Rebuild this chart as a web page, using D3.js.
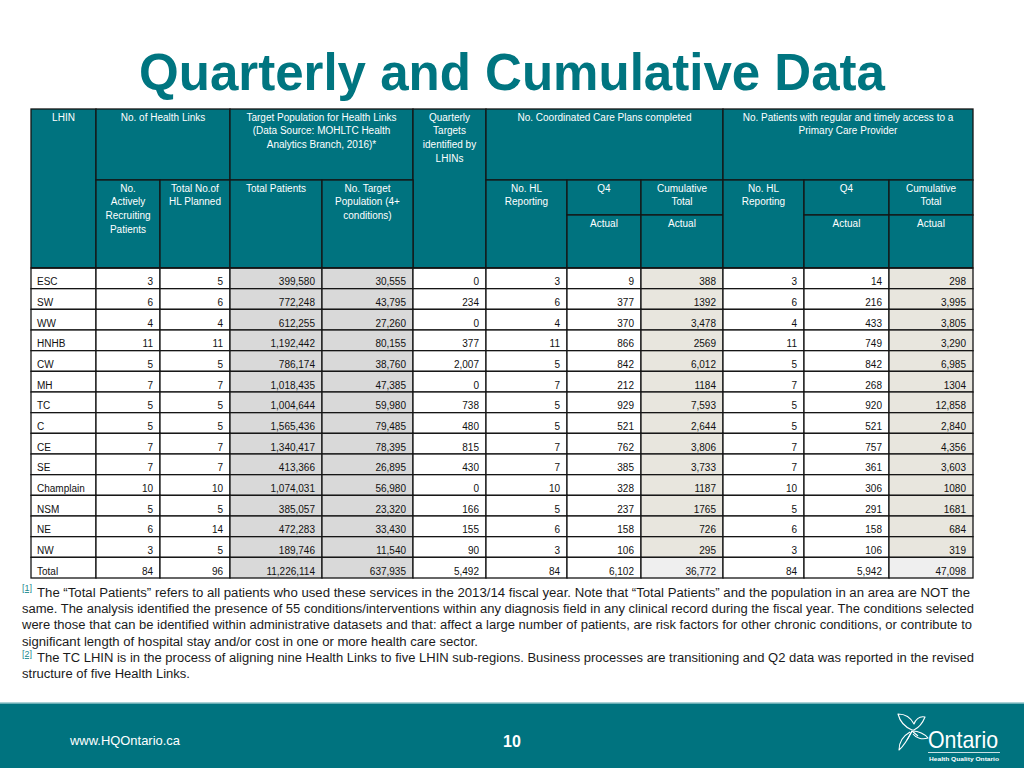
<!DOCTYPE html>
<html><head><meta charset="utf-8">
<script src="https://cdn.jsdelivr.net/npm/d3@7"></script>
<style>html,body{margin:0;padding:0;background:#fff;} svg{display:block;font-family:"Liberation Sans",Arial,Helvetica,sans-serif;}</style>
</head><body><svg id="c" width="1024" height="768"></svg>
<script>
// ---------- DATA ----------
const lhin = ["ESC","SW","WW","HNHB","CW","MH","TC","C","CE","SE","Champlain","NSM","NE","NW","Total"];
const activelyRecruiting = ["3","6","4","11","5","7","5","5","7","7","10","5","6","3","84"];
const hlPlanned = ["5","6","4","11","5","7","5","5","7","7","10","5","14","5","96"];
const totalPatients = ["399,580","772,248","612,255","1,192,442","786,174","1,018,435","1,004,644","1,565,436","1,340,417","413,366","1,074,031","385,057","472,283","189,746","11,226,114"];
const targetPopulation = ["30,555","43,795","27,260","80,155","38,760","47,385","59,980","79,485","78,395","26,895","56,980","23,320","33,430","11,540","637,935"];
const quarterlyTargets = ["0","234","0","377","2,007","0","738","480","815","430","0","166","155","90","5,492"];
const ccpHLReporting = ["3","6","4","11","5","7","5","5","7","7","10","5","6","3","84"];
const ccpQ4Actual = ["9","377","370","866","842","212","929","521","762","385","328","237","158","106","6,102"];
const ccpCumulative = ["388","1392","3,478","2569","6,012","1184","7,593","2,644","3,806","3,733","1187","1765","726","295","36,772"];
const pcpHLReporting = ["3","6","4","11","5","7","5","5","7","7","10","5","6","3","84"];
const pcpQ4Actual = ["14","216","433","749","842","268","920","521","757","361","306","291","158","106","5,942"];
const pcpCumulative = ["298","3,995","3,805","3,290","6,985","1304","12,858","2,840","4,356","3,603","1080","1681","684","319","47,098"];

const titleText = "Quarterly and Cumulative Data";
const headLHIN = ["LHIN"];
const headHealthLinks = ["No. of Health Links"];
const headTargetPop = ["Target Population for Health Links","(Data Source: MOHLTC Health","Analytics Branch, 2016)*"];
const headQuarterly = ["Quarterly","Targets","identified by","LHINs"];
const headCCP = ["No. Coordinated Care Plans completed"];
const headPCP = ["No. Patients with regular and timely access to a","Primary Care Provider"];
const subActive = ["No.","Actively","Recruiting","Patients"];
const subPlanned = ["Total No.of","HL Planned"];
const subTotalPatients = ["Total Patients"];
const subTarget = ["No. Target","Population (4+","conditions)"];
const subHL = ["No. HL","Reporting"];
const subQ4 = ["Q4"];
const subCum = ["Cumulative","Total"];
const subActual = ["Actual"];

const footnote1 = ["The \u201cTotal Patients\u201d refers to all patients who used these services in the 2013/14 fiscal year. Note that \u201cTotal Patients\u201d and the population in an area are NOT the",
 "same. The analysis identified the presence of 55 conditions/interventions within any diagnosis field in any clinical record during the fiscal year. The conditions selected",
 "were those that can be identified within administrative datasets and that: affect a large number of patients, are risk factors for other chronic conditions, or contribute to",
 "significant length of hospital stay and/or cost in one or more health care sector."];
const footnote2 = ["The TC LHIN is in the process of aligning nine Health Links to five LHIN sub-regions. Business processes are transitioning and Q2 data was reported in the revised",
 "structure of five Health Links."];
const footerUrl = "www.HQOntario.ca";
const pageNumber = "10";

// ---------- LAYOUT ----------
const svg = d3.select("#c");
const TEAL = "#00737f", GREY = "#d9d9d9", BEIGE = "#e8e6de", LIGHT = "#efefef", LINE = "#151515";
const colEdges = [31,96,160,230,322,413,486,567,641,723,804,889,973];
const yTop = 109, yH1 = 180, yH2 = 215, yHead = 268, yBot = 578;

// Title
svg.append("text").attr("x",512).attr("y",90).attr("text-anchor","middle")
  .attr("font-size",52).attr("font-weight","bold").attr("fill","#007580")
  .attr("textLength",746).attr("lengthAdjust","spacingAndGlyphs").text(titleText);

// Header cells
const headerCells = [
  {c0:0,c1:1,y0:yTop,y1:yHead,lines:headLHIN},
  {c0:1,c1:3,y0:yTop,y1:yH1,lines:headHealthLinks},
  {c0:3,c1:5,y0:yTop,y1:yH1,lines:headTargetPop},
  {c0:5,c1:6,y0:yTop,y1:yHead,lines:headQuarterly},
  {c0:6,c1:9,y0:yTop,y1:yH1,lines:headCCP},
  {c0:9,c1:12,y0:yTop,y1:yH1,lines:headPCP},
  {c0:1,c1:2,y0:yH1,y1:yHead,lines:subActive},
  {c0:2,c1:3,y0:yH1,y1:yHead,lines:subPlanned},
  {c0:3,c1:4,y0:yH1,y1:yHead,lines:subTotalPatients},
  {c0:4,c1:5,y0:yH1,y1:yHead,lines:subTarget},
  {c0:6,c1:7,y0:yH1,y1:yHead,lines:subHL},
  {c0:7,c1:8,y0:yH1,y1:yH2,lines:subQ4},
  {c0:8,c1:9,y0:yH1,y1:yH2,lines:subCum},
  {c0:7,c1:8,y0:yH2,y1:yHead,lines:subActual},
  {c0:8,c1:9,y0:yH2,y1:yHead,lines:subActual},
  {c0:9,c1:10,y0:yH1,y1:yHead,lines:subHL},
  {c0:10,c1:11,y0:yH1,y1:yH2,lines:subQ4},
  {c0:11,c1:12,y0:yH1,y1:yH2,lines:subCum},
  {c0:10,c1:11,y0:yH2,y1:yHead,lines:subActual},
  {c0:11,c1:12,y0:yH2,y1:yHead,lines:subActual}
];
const hg = svg.append("g");
const hc = hg.selectAll("g").data(headerCells).join("g");
hc.append("rect").attr("x",d=>colEdges[d.c0]).attr("y",d=>d.y0)
  .attr("width",d=>colEdges[d.c1]-colEdges[d.c0]).attr("height",d=>d.y1-d.y0)
  .attr("fill",TEAL).attr("stroke",LINE).attr("stroke-width",1.3);
hc.each(function(d){
  const g = d3.select(this);
  const cx = (colEdges[d.c0]+colEdges[d.c1])/2;
  d.lines.forEach((t,i)=>{
    g.append("text").attr("x",cx).attr("y",d.y0+11.5+i*13.7).attr("text-anchor","middle")
      .attr("font-size",10).attr("fill","#ffffff").text(t);
  });
});

// Data cells
const columns = [lhin,activelyRecruiting,hlPlanned,totalPatients,targetPopulation,quarterlyTargets,
  ccpHLReporting,ccpQ4Actual,ccpCumulative,pcpHLReporting,pcpQ4Actual,pcpCumulative];
const colFill = ["#fff","#fff","#fff",GREY,GREY,"#fff","#fff","#fff",BEIGE,"#fff","#fff",BEIGE];
const y = d3.scaleBand().domain(lhin).range([yHead,yBot]).padding(0);
const cells = [];
lhin.forEach((r,ri)=>columns.forEach((col,ci)=>cells.push({row:r,ri,ci,text:col[ri]})));
const dg = svg.append("g");
const dc = dg.selectAll("g").data(cells).join("g");
dc.append("rect").attr("x",d=>colEdges[d.ci]).attr("y",d=>y(d.row))
  .attr("width",d=>colEdges[d.ci+1]-colEdges[d.ci]).attr("height",y.bandwidth())
  .attr("fill",d=>(d.row==="Total" && colFill[d.ci]===BEIGE) ? LIGHT : colFill[d.ci])
  .attr("stroke",LINE).attr("stroke-width",1.3);
dc.append("text")
  .attr("x",d=>d.ci===0 ? colEdges[0]+6 : colEdges[d.ci+1]-7)
  .attr("y",d=>y(d.row)+y.bandwidth()-3.5)
  .attr("text-anchor",d=>d.ci===0?"start":"end")
  .attr("font-size",10).attr("fill","#111").text(d=>d.text);
svg.append("line").attr("x1",colEdges[0]).attr("x2",colEdges[12]).attr("y1",yHead).attr("y2",yHead)
  .attr("stroke",LINE).attr("stroke-width",1.6);

// Footnotes
const fn = svg.append("g").attr("font-size",12.5).attr("fill","#1a1a1a");
function supRef(xp, yp, label){
  fn.append("text").attr("x",xp).attr("y",yp).attr("font-size",9).attr("fill","#1f8a8f")
    .attr("text-decoration","underline").text(label);
}
const fnY = [596.5,612.8,629.2,645.5];
const fnX = [37,22,22,22];
const fnW = [933,952,950,456];
supRef(22,591,"[1]");
footnote1.forEach((t,i)=>fn.append("text").attr("x",fnX[i]).attr("y",fnY[i])
  .attr("textLength",fnW[i]).attr("lengthAdjust","spacingAndGlyphs").text(t));
supRef(22,657,"[2]");
const fn2Y = [662,678], fn2X = [37,22], fn2W = [937,168];
footnote2.forEach((t,i)=>fn.append("text").attr("x",fn2X[i]).attr("y",fn2Y[i])
  .attr("textLength",fn2W[i]).attr("lengthAdjust","spacingAndGlyphs").text(t));

// Footer band
svg.append("rect").attr("x",0).attr("y",703).attr("width",1024).attr("height",65).attr("fill",TEAL);
svg.append("line").attr("x1",0).attr("x2",1024).attr("y1",703).attr("y2",703).attr("stroke","#8fc3c8").attr("stroke-width",1.5);
svg.append("text").attr("x",70).attr("y",745).attr("font-size",13).attr("fill","#fff")
  .attr("textLength",110).attr("lengthAdjust","spacingAndGlyphs").text(footerUrl);
svg.append("text").attr("x",512).attr("y",747).attr("text-anchor","middle").attr("font-size",16)
  .attr("font-weight","bold").attr("fill","#fff").text(pageNumber);

// Ontario logo
const logo = svg.append("g").attr("fill","none").attr("stroke","#fff").attr("stroke-width",1.1).attr("stroke-linejoin","round");
logo.append("path").attr("d","M912,730 C905,727 900,722 898,714 C905,714 911,718 914,724 C916,719 920,716 925,717 C923,722 920,727 914,730 Z");
logo.append("path").attr("d","M913,731 C918,731 925,734 928,738 C922,740 916,738 913,734");
logo.append("path").attr("d","M912,731 C909,737 905,745 899,750 C899,743 903,736 910,732");
logo.append("path").attr("d","M912,731 L907,740 M912,731 L918,736");
svg.append("text").attr("x",928).attr("y",748).attr("font-size",24).attr("fill","#fff")
  .attr("textLength",70).attr("lengthAdjust","spacingAndGlyphs").text("Ontario");
svg.append("line").attr("x1",928).attr("x2",1000).attr("y1",752.5).attr("y2",752.5).attr("stroke","#fff").attr("stroke-width",0.8);
svg.append("text").attr("x",929).attr("y",760.5).attr("font-size",6).attr("font-weight","bold").attr("fill","#fff")
  .attr("textLength",70).attr("lengthAdjust","spacingAndGlyphs").text("Health Quality Ontario");
</script></body></html>
